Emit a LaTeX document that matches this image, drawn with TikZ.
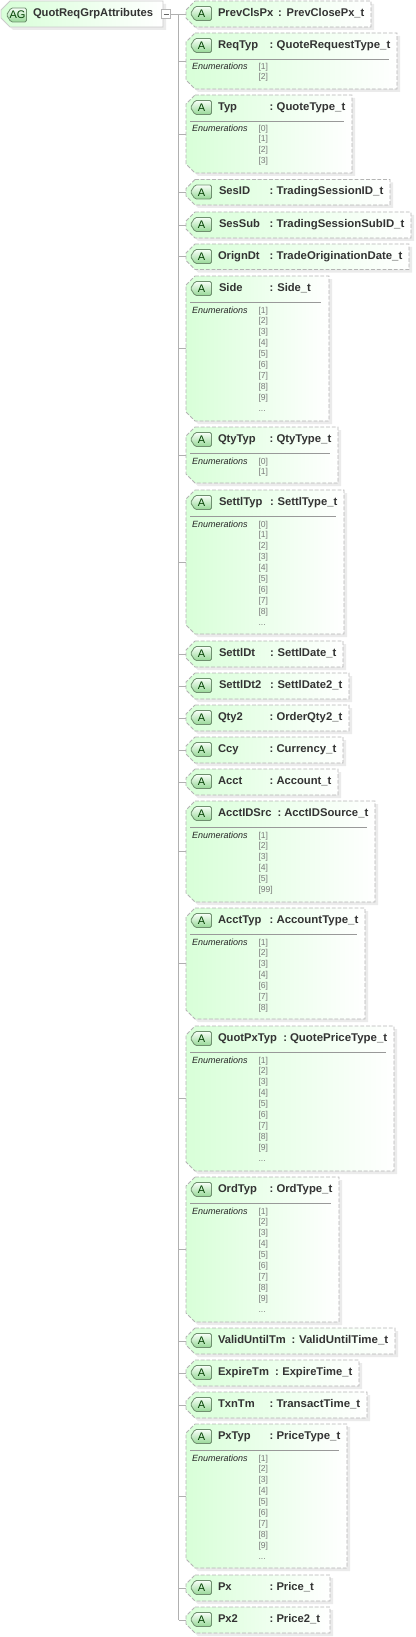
\documentclass[tikz,border=0pt]{standalone}
\usepackage{graphicx}
\usepackage{fontspec}
\setmainfont{Liberation Sans}
\definecolor{gstart}{HTML}{D8FFD8}
\definecolor{txt}{HTML}{333333}
\definecolor{edge}{HTML}{B4B4B4}
\definecolor{shadowc}{HTML}{EBEBEB}
\definecolor{conc}{HTML}{B0B0B0}
\definecolor{tagb}{HTML}{6F8F6F}
\definecolor{tagtop}{HTML}{F8FFF8}
\definecolor{tagbot}{HTML}{96D896}
\definecolor{enumc}{HTML}{7A7A7A}
\tikzset{
  boxanchor/.style={inner sep=0pt,outer sep=0pt,draw=none},
  conn/.style={draw=conc,line width=0.8pt},
  dashedge/.style={draw=edge,line width=0.9pt,dash pattern=on 3.8pt off 1.9pt},
  solidedge/.style={draw=edge!70,line width=0.9pt},
  shadowfill/.style={fill=shadowc,draw=none},
  divider/.style={draw=black!40,line width=0.7pt},
  label/.style={inner sep=0pt,outer sep=0pt,anchor=base west,text=txt,font=\fontsize{11.2}{13}\selectfont\bfseries},
  enumhead/.style={inner sep=0pt,outer sep=0pt,anchor=base west,text=black!85,font=\fontsize{9}{11}\selectfont\itshape},
  enumval/.style={inner sep=0pt,outer sep=0pt,anchor=base west,text=enumc,font=\fontsize{8.6}{10}\selectfont},
  taglabel/.style={inner sep=0pt,outer sep=0pt,text=black!75!green,font=\fontsize{11}{13}\selectfont},
}
\newif\ifnaturaltype
% id, top, bottom, right, name x, name, colon x, type x, type
\newcommand{\attrbox}[9]{%
  \fill[shadowfill] (198,#2+3) -- (#4+3,#2+3) -- (#4+3,#3+3) -- (198,#3+3) -- (189,#3-6) -- (189,#2+12) -- cycle;
  \shade[left color=gstart,right color=white] (195,#2) -- (#4,#2) -- (#4,#3) -- (195,#3) -- (186,#3-9) -- (186,#2+9) -- cycle;
  \draw[dashedge] (195,#2) -- (#4,#2) -- (#4,#3) -- (195,#3) -- (186,#3-9) -- (186,#2+9) -- cycle;
  \node[boxanchor,minimum width={(#4-186)*1pt},minimum height={(#3-#2)*1pt}] (#1) at ({(186+#4)/2},{(#2+#3)/2}) {};
  \shade[top color=tagtop,bottom color=tagbot,rounded corners=1.5pt] (195,#2+5.5) -- (211.5,#2+5.5) -- (211.5,#2+19.5) -- (195,#2+19.5) -- (190.5,#2+12.5) -- cycle;
  \draw[draw=tagb,line width=0.8pt,rounded corners=1.5pt] (195,#2+5.5) -- (211.5,#2+5.5) -- (211.5,#2+19.5) -- (195,#2+19.5) -- (190.5,#2+12.5) -- cycle;
  \node[taglabel] (#1-tag) at (201.5,#2+13) {A};
  \node[label] (#1-name) at (#5,#2+15.5) {#6};
  \node[label] (#1-colon) at (#7,#2+15.5) {:};
  \pgfmathsetlengthmacro{\tw}{#4-6.7-#8}
  \ifnaturaltype
    \node[label] (#1-type) at (#8,#2+15.5) {#9};
  \else
    \node[label] (#1-type) at (#8,#2+15.5) {\resizebox{\tw}{\height}{#9}};
  \fi
}
% id, top, right, values
\newcommand{\enumlist}[4]{%
  \draw[divider] (190,#2+26.5) -- (#3-8,#2+26.5);
  \node[enumhead] (#1-enum) at (192,#2+37) {Enumerations};
  \foreach \v [count=\i] in {#4} {
    \pgfmathsetmacro{\yy}{#2+37+11*(\i-1)-(\i>1?1:0)}
    \node[enumval] (#1-v\i) at (258.5,\yy) {[\v]};
  }
}
% id, top, index of the line
\newcommand{\enumdots}[3]{%
  \pgfmathsetmacro{\yy}{#2+37+11*(#3-1)-1}
  \node[enumval] (#1-dots) at (258.5,\yy) {...};
}
\begin{document}
\begin{tikzpicture}[x=1pt,y=-1pt]
\useasboundingbox (0,0) rectangle (415,1637);
% root
\fill[shadowfill] (13,4) -- (166,4) -- (166,30) -- (13,30) -- (4,21) -- (4,13) -- cycle;
\shade[left color=gstart,right color=white] (10,1) -- (163,1) -- (163,27) -- (10,27) -- (1,18) -- (1,10) -- cycle;
\draw[solidedge] (10,1) -- (163,1) -- (163,27) -- (10,27) -- (1,18) -- (1,10) -- cycle;
\node[boxanchor,minimum width=162pt,minimum height=26pt] (root) at (82,14) {};
\shade[top color=tagtop,bottom color=tagbot,rounded corners=1.5pt] (11,8) -- (26.5,8) -- (26.5,22) -- (11,22) -- (6.5,15) -- cycle;
\draw[draw=tagb,line width=0.8pt,rounded corners=1.5pt] (11,8) -- (26.5,8) -- (26.5,22) -- (11,22) -- (6.5,15) -- cycle;
\node[taglabel] (root-tag) at (17.5,15.2) {AG};
\node[label] (root-name) at (33,16.5) {QuotReqGrpAttributes};
\node[draw=edge,fill=white,line width=0.8pt,minimum width=9pt,minimum height=9pt,inner sep=0pt,outer sep=0pt] (exp) at (166,14) {};
\draw[draw=black!60,line width=0.7pt] ([xshift=-2.5pt]exp.center) -- ([xshift=2.5pt]exp.center);

\coordinate (spine) at (178.5,14);

\attrbox{a1}{1}{27}{371}{218}{PrevClsPx}{278}{286.7}{PrevClosePx\_t}
\attrbox{a2}{33}{89}{397}{218}{ReqTyp}{269.5}{276.7}{QuoteRequestType\_t}
\enumlist{a2}{33}{397}{1,2}
\attrbox{a3}{95}{173}{352}{218}{Typ}{269.5}{276.7}{QuoteType\_t}
\enumlist{a3}{95}{352}{0,1,2,3}
\attrbox{a4}{179.5}{205}{390}{219}{SesID}{269.5}{276.7}{TradingSessionID\_t}
\attrbox{a5}{212}{238}{411}{219}{SesSub}{269.5}{276.7}{TradingSessionSubID\_t}
\attrbox{a6}{244}{269.5}{409}{218}{OrignDt}{269.5}{276.7}{TradeOriginationDate\_t}
\naturaltypetrue
\attrbox{a7}{276}{421}{329}{219}{Side}{269.5}{277.3}{Side\_t}
\naturaltypefalse
\enumlist{a7}{276}{329}{1,2,3,4,5,6,7,8,9}
\enumdots{a7}{276}{10}
\attrbox{a8}{427}{483}{338}{218}{QtyTyp}{269.5}{276.5}{QtyType\_t}
\enumlist{a8}{427}{338}{0,1}
\attrbox{a9}{490}{634}{344}{219}{SettlTyp}{270}{277.5}{SettlType\_t}
\enumlist{a9}{490}{344}{0,1,2,3,4,5,6,7,8}
\enumdots{a9}{490}{10}
\attrbox{a10}{641}{667}{343}{219}{SettlDt}{270}{277.5}{SettlDate\_t}
\attrbox{a11}{673}{699}{349}{219}{SettlDt2}{270}{277.5}{SettlDate2\_t}
\attrbox{a12}{705}{731}{349}{218}{Qty2}{269.5}{276.5}{OrderQty2\_t}
\attrbox{a13}{737}{763}{343}{218}{Ccy}{269.5}{276.5}{Currency\_t}
\attrbox{a14}{769}{795}{338}{218}{Acct}{269.5}{276.5}{Account\_t}
\attrbox{a15}{801}{902}{375}{218}{AcctIDSrc}{277.5}{284.3}{AcctIDSource\_t}
\enumlist{a15}{801}{375}{1,2,3,4,5,99}
\attrbox{a16}{908}{1019}{365}{218}{AcctTyp}{269.5}{276.5}{AccountType\_t}
\enumlist{a16}{908}{365}{1,2,3,4,6,7,8}
\attrbox{a17}{1026}{1171}{394}{218}{QuotPxTyp}{283.3}{290}{QuotePriceType\_t}
\enumlist{a17}{1026}{394}{1,2,3,4,5,6,7,8,9}
\enumdots{a17}{1026}{10}
\attrbox{a18}{1177}{1322}{339}{218}{OrdTyp}{269.5}{276.5}{OrdType\_t}
\enumlist{a18}{1177}{339}{1,2,3,4,5,6,7,8,9}
\enumdots{a18}{1177}{10}
\attrbox{a19}{1328}{1354}{395}{218}{ValidUntilTm}{291.7}{299}{ValidUntilTime\_t}
\attrbox{a20}{1360}{1386}{359}{218}{ExpireTm}{275}{282.3}{ExpireTime\_t}
\attrbox{a21}{1392}{1418}{367}{218}{TxnTm}{269.5}{276.5}{TransactTime\_t}
\attrbox{a22}{1424}{1568}{347}{218}{PxTyp}{269.5}{276.5}{PriceType\_t}
\enumlist{a22}{1424}{347}{1,2,3,4,5,6,7,8,9}
\enumdots{a22}{1424}{10}
\naturaltypetrue
\attrbox{a23}{1575}{1601}{330}{218}{Px}{269.5}{276.5}{Price\_t}
\attrbox{a24}{1607}{1633}{330}{218}{Px2}{269.5}{276.5}{Price2\_t}
\naturaltypefalse

% connectors
\draw[conn] (exp.east) -- (a1.west);
\draw[conn] (spine) -- (spine |- a24.west);
\foreach \k in {2,...,24} {
  \draw[conn] (spine |- a\k.west) -- (a\k.west);
}
\end{tikzpicture}
\end{document}
